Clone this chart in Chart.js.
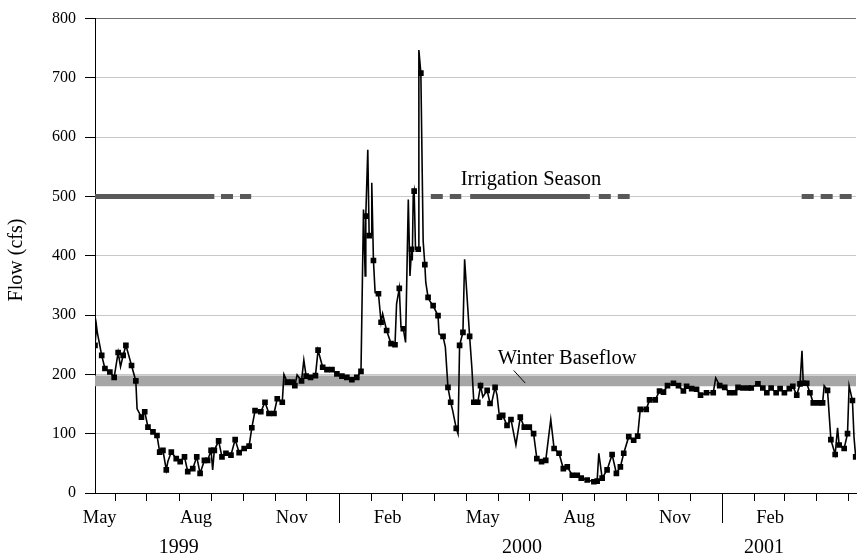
<!DOCTYPE html>
<html>
<head>
<meta charset="utf-8">
<title>Flow</title>
<script src="https://cdn.jsdelivr.net/npm/chart.js@4.4.1/dist/chart.umd.min.js"></script>
<style>
  html, body { margin: 0; padding: 0; background: #fff; }
</style>
</head>
<body>
<canvas id="flowChart" width="860" height="554"></canvas>
<script>
// day 0 of the record = 13 May 1999
const recordStart = Date.UTC(1999, 4, 13);

// daily flow (day of record, cfs)
const flowDay = [
  0, 1.4, 2.2, 6.4, 9.5, 14.2, 18.3, 22.1, 24.4, 26.9,
  29.5, 31.6, 34.9, 39, 40.2, 44.4, 47.5, 50.6, 55.4, 59.2,
  61.8, 64.9, 68.1, 69.6, 72.9, 77.6, 81.4, 85.5, 88.6, 93.4,
  97.2, 100.4, 104.5, 107.6, 110.9, 112.4, 114, 118.1, 121.3, 125.1,
  129.9, 133.9, 137.7, 142.5, 147.2, 149.8, 152.9, 158.4, 162.4, 166.2,
  171, 174.1, 178.9, 180.5, 183.6, 188.4, 190.9, 193.1, 197.3, 199.5,
  201.7, 205.9, 210.6, 213.1, 217.5, 221.6, 226.4, 231.1, 235.9, 240.6,
  245.4, 250.1, 254.1, 256.5, 258.1, 258.7, 260.6, 261.9, 263.8, 264.4,
  266, 267.6, 270.8, 273.3, 274.8, 278.6, 282.8, 286.6, 288.1, 290.7,
  292.3, 294.5, 296.7, 299.3, 300.9, 302.4, 303.1, 304, 304.9, 306.2,
  308.8, 309.4, 311.3, 313.5, 315.1, 316, 318.2, 319.8, 323, 325.2,
  327.7, 328.7, 332.5, 334.7, 337.2, 339.8, 341.7, 345.1, 346.8, 348.3,
  351.5, 353.1, 357.9, 360, 361.9, 365.7, 368.3, 370.5, 374.6, 377.4,
  379.3, 382.2, 384.1, 386.4, 389.5, 393.6, 397.4, 402.1, 406.3, 410.1,
  414.9, 419, 422.1, 426.6, 430.6, 435.4, 438.6, 443.3, 447.4, 451.2,
  456, 460.7, 464.5, 470.2, 476.6, 479.7, 481.3, 484.5, 489.2, 494,
  498.1, 501.9, 505.1, 509.9, 514.6, 518.4, 520.9, 526.6, 529.8, 535.2,
  539.3, 543.1, 546.9, 552.6, 557.4, 562.1, 565.2, 570, 574.7, 578.5,
  584.2, 590.6, 593, 596.8, 601.6, 606.3, 611.1, 614.3, 619, 623.8,
  626.9, 633.3, 638, 641.8, 645.9, 650.7, 654.5, 658.6, 663.3, 666.6,
  670.4, 673.5, 675.4, 676.6, 679.9, 683, 686.2, 691.3, 695.1, 696.6,
  699.8, 703, 707.1, 709.4, 710.9, 715.7, 718.9, 720.4, 723.6, 725.1,
  726.7
];
const flowCfs = [
  249, 282, 271, 232, 210, 204, 195, 237, 213, 232,
  249, 236, 215, 189, 142, 128, 137, 111, 103, 97,
  69, 72, 39, 53, 69, 58, 53, 61, 36, 41,
  61, 33, 55, 55, 72, 39, 72, 88, 61, 67,
  64, 90, 68, 75, 79, 110, 139, 137, 153, 134,
  134, 159, 153, 200, 187, 187, 181, 199, 189, 224,
  197, 195, 198, 241, 212, 208, 208, 201, 197, 195,
  191, 195, 205, 478, 366, 467, 579, 434, 437, 523,
  392, 338, 336, 288, 302, 274, 252, 250, 319, 345,
  280, 277, 254, 495, 366, 411, 392, 501, 509, 411,
  411, 747, 708, 425, 385, 355, 330, 324, 316, 308,
  299, 268, 264, 246, 178, 153, 139, 109, 100, 249,
  271, 394, 264, 212, 153, 153, 181, 162, 173, 151,
  155, 178, 165, 128, 131, 114, 124, 81, 128, 111,
  111, 100, 58, 53, 55, 124, 75, 67, 41, 44,
  30, 30, 25, 22, 19, 20, 67, 25, 39, 65,
  33, 44, 67, 95, 89, 96, 141, 141, 157, 157,
  172, 170, 181, 185, 181, 172, 180, 176, 175, 165,
  169, 169, 194, 181, 178, 169, 169, 178, 177, 177,
  177, 184, 177, 169, 177, 169, 176, 169, 176, 180,
  165, 184, 240, 185, 185, 169, 152, 152, 152, 181,
  173, 90, 65, 110, 81, 75, 100, 181, 156, 94,
  61
];

// winter baseflow band and irrigation season line
const baseflowLow = 180;
const baseflowHigh = 198;
const irrigationLevel = 500;
const irrigSolidFrom = [0, 358.4];
const irrigSolidTo = [114, 472.8];
const irrigDashFrom = [120.4, 320.8, 481.3, 675.1];
const irrigDashTo = [149.2, 349.9, 510.8, 727];

const dayMax = 727;
const yTicks = [0, 100, 200, 300, 400, 500, 600, 700, 800];
const monthLabels = ['May', 'Aug', 'Nov', 'Feb', 'May', 'Aug', 'Nov', 'Feb'];
const monthLabelMonths = ['1999-05', '1999-08', '1999-11', '2000-02', '2000-05', '2000-08', '2000-11', '2001-02'];
const yearLabels = ['1999', '2000', '2001'];
const yearLabelDates = ['1999-08-01', '2000-06-24', '2001-02-10'];

const serif = "'Liberation Serif', 'Times New Roman', serif";

function dayOf(ms) {
  return (ms - recordStart) / 86400000;
}

function pieces(from, to, level) {
  const pts = [];
  from.forEach((f, i) => {
    pts.push({ x: f, y: level }, { x: to[i], y: level }, { x: to[i], y: null });
  });
  return pts;
}

// markers every few days, but not on the thin spikes
let lastMark = -99;
const markerRadius = flowCfs.map((v, i) => {
  const a = flowCfs[i - 1], b = flowCfs[i + 1];
  const spike = a !== undefined && b !== undefined &&
    ((v - a > 30 && v - b > 30) || (a - v > 30 && b - v > 30));
  if (spike || flowDay[i] - lastMark < 2.5) return 0;
  lastMark = flowDay[i];
  return 4;
});

const axisDecor = {
  id: 'axisDecor',
  afterDraw(chart) {
    const ctx = chart.ctx;
    const xs = chart.scales.x;
    const ys = chart.scales.y;
    const bottom = chart.chartArea.bottom;
    ctx.save();
    ctx.strokeStyle = '#000';
    ctx.lineWidth = 1;

    // month tick marks, long ones at new year
    for (let y = 1999, m = 5; y < 2001 || m <= 4; m++) {
      if (m > 11) { m = 0; y++; }
      const d = dayOf(Date.UTC(y, m, 1));
      if (d > dayMax) break;
      const px = Math.round(xs.getPixelForValue(d)) + 0.5;
      ctx.beginPath();
      ctx.moveTo(px, bottom);
      ctx.lineTo(px, bottom + (m === 0 ? 30 : 8));
      ctx.stroke();
    }

    ctx.fillStyle = '#000';
    ctx.textAlign = 'center';
    ctx.textBaseline = 'alphabetic';
    ctx.font = '18.5px ' + serif;
    monthLabels.forEach((lab, i) => {
      const [yy, mm] = monthLabelMonths[i].split('-').map(Number);
      const a = dayOf(Date.UTC(yy, mm - 1, 1));
      const b = dayOf(Date.UTC(yy, mm, 1));
      ctx.fillText(lab, xs.getPixelForValue((a + b) / 2) + 1, bottom + 30);
    });
    ctx.font = '20px ' + serif;
    yearLabels.forEach((lab, i) => {
      ctx.fillText(lab, xs.getPixelForValue(dayOf(Date.parse(yearLabelDates[i]))), bottom + 60);
    });

    // y axis title
    ctx.save();
    ctx.translate(17, 260);
    ctx.rotate(-Math.PI / 2);
    ctx.textBaseline = 'middle';
    ctx.font = '20px ' + serif;
    ctx.fillText('Flow (cfs)', 0, 0);
    ctx.restore();

    // labels inside the plot
    ctx.textAlign = 'left';
    ctx.font = '20.5px ' + serif;
    ctx.fillText('Irrigation Season', xs.getPixelForValue(349.3), ys.getPixelForValue(519));
    ctx.fillText('Winter Baseflow', xs.getPixelForValue(384.8), ys.getPixelForValue(218));
    ctx.beginPath();
    ctx.moveTo(xs.getPixelForValue(400), ys.getPixelForValue(206.7));
    ctx.lineTo(xs.getPixelForValue(411), ys.getPixelForValue(185.4));
    ctx.stroke();
    ctx.restore();
  }
};

new Chart(document.getElementById('flowChart'), {
  type: 'line',
  data: {
    datasets: [
      {
        label: 'Flow',
        data: flowDay.map((d, i) => ({ x: d, y: flowCfs[i] })),
        borderColor: '#000',
        borderWidth: 1.6,
        pointStyle: 'rect',
        pointRadius: markerRadius,
        pointBackgroundColor: '#000',
        pointBorderWidth: 0,
        tension: 0
      },
      {
        label: 'Irrigation Season',
        data: pieces(irrigSolidFrom, irrigSolidTo, irrigationLevel),
        borderColor: '#595959',
        borderWidth: 5,
        borderCapStyle: 'butt',
        pointRadius: 0,
        spanGaps: false
      },
      {
        label: 'Irrigation Season (shoulder)',
        data: pieces(irrigDashFrom, irrigDashTo, irrigationLevel),
        borderColor: '#595959',
        borderWidth: 5,
        borderDash: [12, 7],
        borderCapStyle: 'butt',
        pointRadius: 0,
        spanGaps: false
      },
      {
        label: 'Winter Baseflow',
        data: [{ x: 0, y: baseflowLow }, { x: dayMax, y: baseflowLow }],
        borderWidth: 0,
        pointRadius: 0,
        backgroundColor: '#a6a6a6',
        fill: { value: baseflowHigh }
      }
    ]
  },
  options: {
    responsive: false,
    animation: false,
    devicePixelRatio: 1,
    layout: { padding: { top: 17, right: 0, left: 0, bottom: 0 } },
    plugins: {
      legend: { display: false },
      tooltip: { enabled: false }
    },
    scales: {
      x: {
        type: 'linear',
        min: 0,
        max: dayMax,
        grid: { display: false, drawTicks: false },
        ticks: { display: false },
        border: { color: '#000', width: 1 },
        afterFit: (scale) => { scale.height = 61; }
      },
      y: {
        min: 0,
        max: 800,
        afterBuildTicks: (scale) => { scale.ticks = yTicks.map(v => ({ value: v })); },
        ticks: {
          color: '#000',
          padding: 9,
          font: { family: serif, size: 16 }
        },
        grid: {
          color: (c) => (c.tick && c.tick.value === 800 ? '#707070' : '#c8c8c8'),
          tickColor: '#000',
          tickLength: 10,
          lineWidth: 1
        },
        border: { color: '#000', width: 1 },
        afterFit: (scale) => { scale.width = 95; }
      }
    }
  },
  plugins: [axisDecor]
});
</script>
</body>
</html>
